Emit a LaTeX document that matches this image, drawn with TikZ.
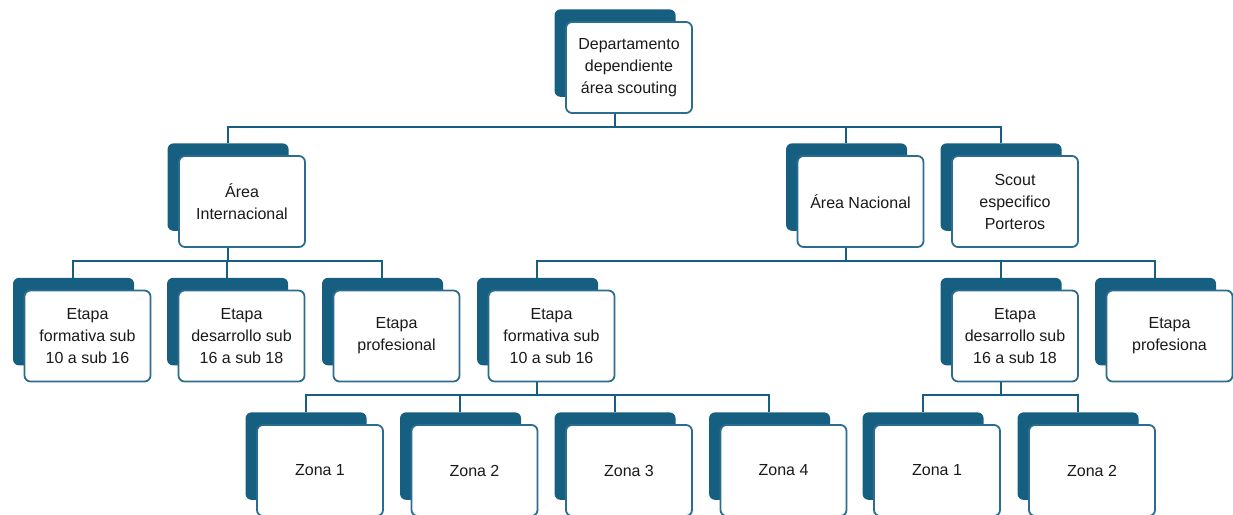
\documentclass[tikz,border=0pt]{standalone}
\usepackage{fontspec}
\setmainfont{Liberation Sans}
\usetikzlibrary{shadows}
\definecolor{azulosc}{HTML}{175F80}
\definecolor{azulbor}{HTML}{2C6D8F}
\definecolor{texto}{HTML}{1A1A1A}
\begin{document}
\begin{tikzpicture}[x=1pt,y=-1pt,
	caja/.style={draw=azulbor,line width=1.8pt,fill=white,rounded corners=6pt,
		minimum width=126pt,minimum height=91pt,align=center,text=texto,inner sep=2pt,
		font=\fontsize{16}{22}\selectfont,
		general shadow={fill=azulosc,shadow xshift=-14.5pt,shadow yshift=15pt,shadow scale=0.96}},
	conn/.style={draw=azulosc,line width=2pt}]
		\useasboundingbox (0,0) rectangle (1233,514);
		\clip (0,0) rectangle (1233,514);
		% nivel 0
		\node[caja] (dep) at (629,67.5) {Departamento\\dependiente\\área scouting};
		% nivel 1
		\node[caja] (ai) at (242,201.5) {Área\\Internacional};
		\node[caja] (an) at (860.5,201.5) {Área Nacional};
		\node[caja] (sc) at (1015,201.5) {Scout\\especifico\\Porteros};
		% nivel 2
		\node[caja] (e1) at (87.5,336) {Etapa\\formativa sub\\10 a sub 16};
		\node[caja] (e2) at (241.5,336) {Etapa\\desarrollo sub\\16 a sub 18};
		\node[caja] (e3) at (396.5,336) {Etapa\\profesional};
		\node[caja] (n1) at (551.5,336) {Etapa\\formativa sub\\10 a sub 16};
		\node[caja] (n2) at (1015,336) {Etapa\\desarrollo sub\\16 a sub 18};
		\node[caja] (n3) at (1169.5,336) {Etapa\\profesiona};
		% nivel 3
		\node[caja] (z1) at (320,470.5) {Zona 1};
		\node[caja] (z2) at (474.5,470.5) {Zona 2};
		\node[caja] (z3) at (629,470.5) {Zona 3};
		\node[caja] (z4) at (783.5,470.5) {Zona 4};
		\node[caja] (y1) at (937,470.5) {Zona 1};
		\node[caja] (y2) at (1092,470.5) {Zona 2};
		% conectores
		\foreach \padre/\hijo in {dep/ai,dep/an,dep/sc,ai/e1,ai/e2,ai/e3,an/n1,an/n2,an/n3,
			n1/z1,n1/z2,n1/z3,n1/z4,n2/y1,n2/y2}
			\draw[conn] ([xshift=-14.5pt]\padre.south) -- ++(0,13) -| ([xshift=-14.5pt,yshift=12pt]\hijo.north);
\end{tikzpicture}
\end{document}
